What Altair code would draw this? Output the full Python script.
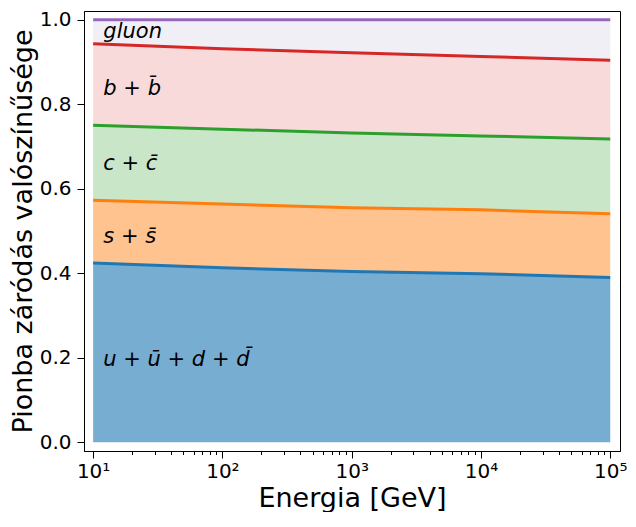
import altair as alt
import pandas as pd

# Energies (GeV) at which the cumulative fractions were read
energies = [10, 100, 1000, 10000, 100000]

# Cumulative probability boundaries (upper edge of each band)
cum_ud = [0.424, 0.413, 0.404, 0.399, 0.390]
cum_s = [0.573, 0.564, 0.555, 0.550, 0.541]
cum_c = [0.750, 0.741, 0.732, 0.725, 0.718]
cum_b = [0.943, 0.931, 0.922, 0.913, 0.904]
cum_g = [1.0, 1.0, 1.0, 1.0, 1.0]

components = ["ud", "s", "c", "b", "g"]
line_colors = ["#1f77b4", "#ff7f0e", "#2ca02c", "#d62728", "#9467bd"]
fill_colors = ["#78add2", "#ffc38f", "#cae6c8", "#f8dadb", "#f1eff6"]

label_texts = ["u + ū + d + d̄", "s + s̄", "c + c̄", "b + b̄", "gluon"]
label_x = [12, 12, 12, 12, 12]
label_y = [0.195, 0.486, 0.658, 0.837, 0.970]

major_ticks = [10, 100, 1000, 10000, 100000]
minor_ticks = [m * 10 ** k for k in range(1, 5) for m in range(2, 10)]
y_ticks = [0.0, 0.2, 0.4, 0.6, 0.8, 1.0]

uppers = [cum_ud, cum_s, cum_c, cum_b, cum_g]
rows = []
for i, comp in enumerate(components):
    lower = [0.0] * len(energies) if i == 0 else uppers[i - 1]
    for j, e in enumerate(energies):
        rows.append({"comp": comp, "order": i, "E": e, "lower": lower[j], "upper": uppers[i][j]})
df = pd.DataFrame(rows)
labels_df = pd.DataFrame({"text": label_texts, "x": label_x, "y": label_y})

x_dom = [8.5, 119000]
y_dom = [-0.0206, 1.0206]

x_scale = alt.Scale(type="log", domain=x_dom, nice=False)
y_scale = alt.Scale(domain=y_dom, nice=False, zero=False)

FONT = "DejaVu Sans"

sup = "['⁰','¹','²','³','⁴','⁵','⁶']"
x_axis = alt.Axis(
    values=major_ticks,
    labelExpr="'10' + " + sup + "[round(log(datum.value)/LN10)]",
    tickSize=7,
    labelFontSize=20,
    labelPadding=3,
    labelFont=FONT,
    title="Energia [GeV]",
    titleFont=FONT,
    titleFontSize=27,
    titleFontWeight="normal",
    titleBaseline="alphabetic",
    titleY=55,
    orient="bottom",
    grid=False,
)
minor_axis = alt.Axis(
    values=minor_ticks,
    labels=False,
    tickSize=3.5,
    domain=False,
    title=None,
    orient="bottom",
    grid=False,
)
y_axis = alt.Axis(
    values=y_ticks,
    format=".1f",
    tickSize=7,
    labelFontSize=20,
    labelFont=FONT,
    labelPadding=6,
    title="Pionba záródás valószínűsége",
    titleFont=FONT,
    titleFontSize=27,
    titleFontWeight="normal",
    titlePadding=2,
    grid=False,
)

area = alt.Chart(df).mark_area(opacity=1).encode(
    x=alt.X("E:Q", scale=x_scale, axis=x_axis),
    y=alt.Y("upper:Q", scale=y_scale, axis=y_axis),
    y2="lower:Q",
    fill=alt.Fill("comp:N", scale=alt.Scale(domain=components, range=fill_colors), legend=None),
    order="order:Q",
)

lines = alt.Chart(df).mark_line(strokeWidth=3).encode(
    x=alt.X("E:Q", scale=x_scale, axis=minor_axis),
    y=alt.Y("upper:Q", scale=y_scale),
    stroke=alt.Stroke("comp:N", scale=alt.Scale(domain=components, range=line_colors), legend=None),
)

texts = alt.Chart(labels_df).mark_text(
    align="left", baseline="middle", fontSize=21, fontStyle="italic", font=FONT, color="black"
).encode(
    x=alt.X("x:Q", scale=x_scale, axis=None),
    y=alt.Y("y:Q", scale=y_scale),
    text="text:N",
)

chart = alt.layer(area, lines, texts).resolve_scale(x="independent").properties(
    width=536,
    height=440,
    background="white",
    autosize=alt.AutoSizeParams(type="none"),
    padding={"left": 76, "top": 3, "right": 8, "bottom": 61},
).configure_view(stroke="black", strokeWidth=1).configure_axis(
    domainColor="black", tickColor="black", labelColor="black", titleColor="black",
    domainWidth=1, tickWidth=1,
)

chart.save("out.html", embed_options={"renderer": "svg", "actions": False})
